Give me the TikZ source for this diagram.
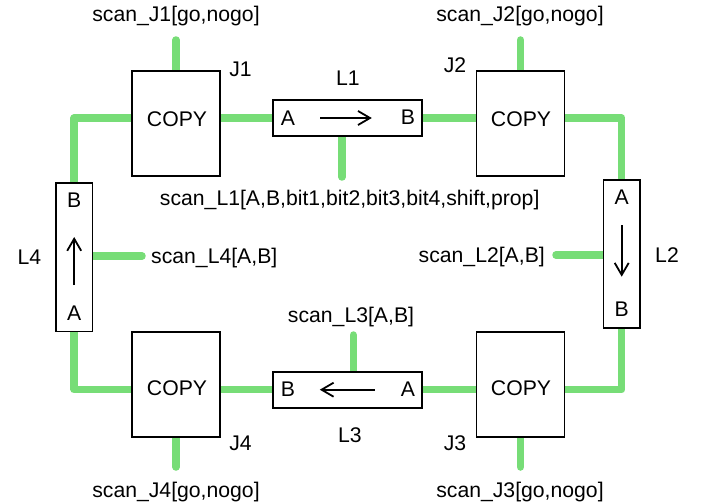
\documentclass[tikz,border=0pt]{standalone}
\usepackage{fontspec}
\setmainfont{Liberation Sans}
\usetikzlibrary{arrows.meta,backgrounds}
\definecolor{wire}{RGB}{119,221,119}
\begin{document}
\begin{tikzpicture}[x=1pt,y=-1pt,
  font=\fontsize{21.2}{25}\selectfont,
  copybox/.style={draw=black,fill=white,line width=1.8pt,inner sep=0pt,
    minimum width=88pt,minimum height=105pt},
  hlink/.style={draw=black,fill=white,line width=1.8pt,inner sep=0pt,
    minimum width=149pt,minimum height=36pt},
  vlink/.style={draw=black,fill=white,line width=1.8pt,inner sep=0pt,
    minimum width=36.5pt,minimum height=148.5pt},
  wireline/.style={draw=wire,line width=7.5pt,line cap=round,line join=round},
  dirarrow/.style={line width=1.8pt,-{Straight Barb[length=12pt,width=14pt,line width=1.8pt]}},
  txt/.style={inner sep=0pt,anchor=base}]
\useasboundingbox (0,0) rectangle (702,503);

% junction boxes
\node[copybox] (j1) at (176,123.2) {};
\node[copybox] (j2) at (520.5,123.2) {};
\node[copybox] (j4) at (176,384.2) {};
\node[copybox] (j3) at (520.5,384.2) {};
% link boxes
\node[hlink] (l1) at (347.8,118) {};
\node[hlink] (l3) at (347.8,389.7) {};
\node[vlink] (l4) at (74.2,257.2) {};
\node[vlink] (l2) at (621.7,254.1) {};

% free ends of the scan stubs
\coordinate (sj1) at (176,40);
\coordinate (sj2) at (520.5,40);
\coordinate (sj4) at (176,467);
\coordinate (sj3) at (520.5,467);
\coordinate (sl1) at (342,177);
\coordinate (sl3) at (353.3,335);
\coordinate (sl4) at (142,256);
\coordinate (sl2) at (556,255);

% green wiring behind the boxes
\begin{scope}[on background layer]
  \path[wireline] (l1.west) -- (l1.west -| j1.east);
  \path[wireline] (l1.east) -- (l1.east -| j2.west);
  \path[wireline] (l3.west) -- (l3.west -| j4.east);
  \path[wireline] (l3.east) -- (l3.east -| j3.west);
  \path[wireline] (j1.west |- l1.west) -| (l4.north);
  \path[wireline] (j4.west |- l3.west) -| (l4.south);
  \path[wireline] (j2.east |- l1.east) -| (l2.north);
  \path[wireline] (j3.east |- l3.east) -| (l2.south);
  \path[wireline] (j1.north) -- (sj1);
  \path[wireline] (j2.north) -- (sj2);
  \path[wireline] (j4.south) -- (sj4);
  \path[wireline] (j3.south) -- (sj3);
  \path[wireline] (sl1 |- l1.south) -- (sl1);
  \path[wireline] (sl3 |- l3.north) -- (sl3);
  \path[wireline] (sl4 -| l4.east) -- (sl4);
  \path[wireline] (sl2 -| l2.west) -- (sl2);
\end{scope}

% box contents
\node[txt] (c1) at (177,127) {COPY};
\node[txt] (c2) at (521,127) {COPY};
\node[txt] (c4) at (177,395.5) {COPY};
\node[txt] (c3) at (521,395.5) {COPY};

\node[txt] (l1a) at (288,125) {A};
\node[txt] (l1b) at (408,124.5) {B};
\draw[dirarrow] ([xshift=-27.8pt]l1.center) -- ([xshift=24pt]l1.center);

\node[txt] (l3b) at (288,396) {B};
\node[txt] (l3a) at (408,396) {A};
\draw[dirarrow] ([xshift=27pt]l3.center) -- ([xshift=-28pt]l3.center);

\node[txt] (l4b) at (74.2,207) {B};
\node[txt] (l4a) at (74.2,320) {A};
\draw[dirarrow] ([yshift=-27.8pt]l4.center) -- ([yshift=20.2pt]l4.center);

\node[txt] (l2a) at (621.7,204) {A};
\node[txt] (l2b) at (621.7,316.7) {B};
\draw[dirarrow] ([yshift=29pt]l2.center) -- ([yshift=-22.6pt]l2.center);

% names
\node[txt] (nj1) at (240.5,77) {J1};
\node[txt] (nj2) at (455,73) {J2};
\node[txt] (nj4) at (240.5,450) {J4};
\node[txt] (nj3) at (455,450) {J3};
\node[txt] (nl1) at (348,85) {L1};
\node[txt] (nl3) at (350,442) {L3};
\node[txt] (nl4) at (29.5,264) {L4};
\node[txt] (nl2) at (667,262) {L2};

% scan chain labels
\node[txt] (tj1) at (176,22) {scan\_J1[go,nogo]};
\node[txt] (tj2) at (520,22) {scan\_J2[go,nogo]};
\node[txt] (tj4) at (176,497) {scan\_J4[go,nogo]};
\node[txt] (tj3) at (520,497) {scan\_J3[go,nogo]};
\node[txt] (tl1) at (349.7,205) {scan\_L1[A,B,bit1,bit2,bit3,bit4,shift,prop]};
\node[txt] (tl3) at (351,322.7) {scan\_L3[A,B]};
\node[txt,anchor=base west] (tl4) at (151,263.3) {scan\_L4[A,B]};
\node[txt,anchor=base east] (tl2) at (545,262.7) {scan\_L2[A,B]};
\end{tikzpicture}
\end{document}
